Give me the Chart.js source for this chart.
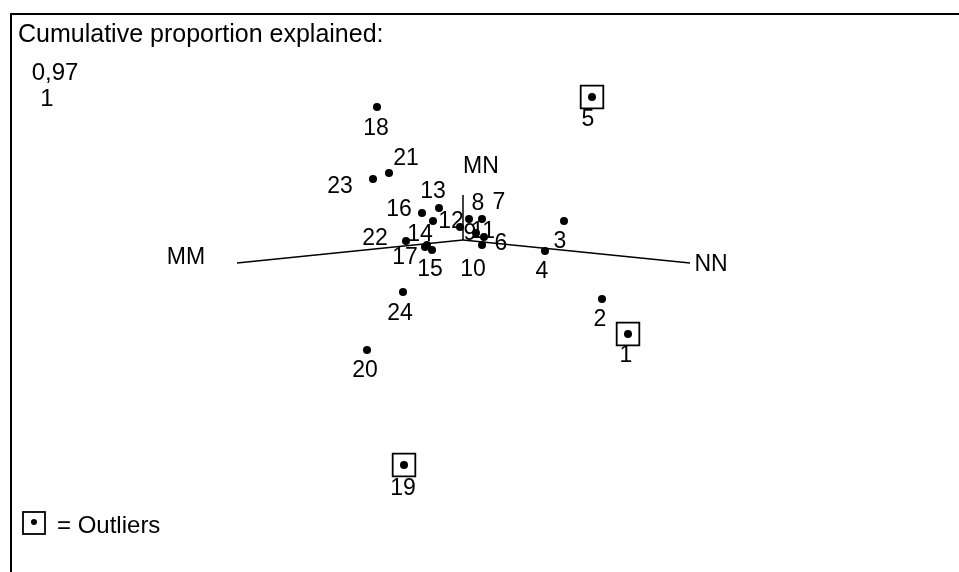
<!DOCTYPE html>
<html>
<head>
<meta charset="utf-8">
<script src="https://cdn.jsdelivr.net/npm/chart.js@4.4.0/dist/chart.umd.min.js"></script>
<style>
body{margin:0;background:#fff;}
#wrap{position:relative;width:959px;height:572px;}
#frame{position:absolute;left:10px;top:13px;right:0;bottom:0;border-left:2px solid #000;border-top:2px solid #000;pointer-events:none;}
</style>
</head>
<body>
<div id="wrap">
  <canvas id="biplot" width="959" height="572"></canvas>
  <div id="frame"></div>
</div>
<script>
// observations (scores)
let pointLabels = ["1","2","3","4","5","6","7","8","9","10","11","12","13","14","15","16","17","18","19","20","21","22","23","24"];
let scoreX = [1.65, 1.39, 1.01, 0.82, 1.29, 0.21, 0.19, 0.06, -0.03, 0.19, 0.13, -0.30, -0.24, -0.36, -0.31, -0.41, -0.38, -0.86, -0.59, -0.96, -0.74, -0.57, -0.90, -0.60];
let scoreY = [-0.94, -0.59, 0.19, -0.11, 1.43, 0.03, 0.21, 0.21, 0.13, -0.05, 0.07, 0.19, 0.32, -0.05, -0.10, 0.27, -0.07, 1.33, -2.25, -1.10, 0.67, -0.01, 0.61, -0.52];
let outliers = ["1", "5", "19"];

// variables (loadings)
let varNames = ["MM", "NN", "MN"];
let varX = [-2.26, 2.27, 0];
let varY = [-0.23, -0.23, 0.45];

let cumProp = ["0,97", "1"];

// where each number sits relative to its dot (px)
let labelOffsets = [[-2,20],[-2,19],[-4,19],[-3,19],[-4,21],[17,5],[17,-18],[9,-17],[10,5],[-9,23],[7,-3],[18,-1],
  [-6,-18],[-7,-12],[-2,18],[-23,-5],[-20,9],[-1,20],[-1,22],[-2,19],[17,-16],[-31,-4],[-33,6],[-3,20]];
let varOffsets = [[-51,-7],[21,0],[18,-30]];

let family = "'Liberation Sans', Arial, sans-serif";

let scores = scoreX.map((x, i) => ({x: x, y: scoreY[i]}));
let outlierPts = outliers.map(l => scores[pointLabels.indexOf(l)]);

let datasets = varNames.map((name, i) => ({
  type: "line",
  label: name,
  data: [{x: 0, y: 0}, {x: varX[i], y: varY[i]}],
  borderColor: "#000",
  borderWidth: 1.5,
  pointRadius: 0,
  fill: false
}));
datasets.push({
  type: "scatter",
  label: "scores",
  data: scores,
  backgroundColor: "#000",
  borderColor: "#000",
  pointRadius: 4,
  borderWidth: 0
});
datasets.push({
  type: "scatter",
  label: "outliers",
  data: outlierPts,
  pointStyle: "rect",
  pointRadius: 16,
  backgroundColor: "rgba(0,0,0,0)",
  borderColor: "#000",
  borderWidth: 1.8
});

const textPlugin = {
  id: "biplotText",
  beforeDatasetsDraw(chart) {
    // numbers go under the dots
    let ctx = chart.ctx, xs = chart.scales.x, ys = chart.scales.y;
    ctx.save();
    ctx.font = "23px " + family;
    ctx.fillStyle = "#000";
    ctx.textAlign = "center";
    ctx.textBaseline = "middle";
    pointLabels.forEach((l, i) => {
      ctx.fillText(l, xs.getPixelForValue(scoreX[i]) + labelOffsets[i][0], ys.getPixelForValue(scoreY[i]) + labelOffsets[i][1] + 2);
    });
    ctx.restore();
  },
  afterDraw(chart) {
    let ctx = chart.ctx, xs = chart.scales.x, ys = chart.scales.y;
    ctx.save();
    ctx.font = "23px " + family;
    ctx.fillStyle = "#000";
    ctx.textBaseline = "middle";
    ctx.textAlign = "center";
    varNames.forEach((n, i) => {
      ctx.fillText(n, xs.getPixelForValue(varX[i]) + varOffsets[i][0], ys.getPixelForValue(varY[i]) + varOffsets[i][1] + 2);
    });
    ctx.font = "24px " + family;
    ctx.fillText(cumProp[0], 55, 73);
    ctx.fillText(cumProp[1], 47, 99);
    ctx.font = "25px " + family;
    ctx.textAlign = "left";
    ctx.fillText("Cumulative proportion explained:", 18, 35);
    // legend
    ctx.lineWidth = 1.8;
    ctx.strokeStyle = "#000";
    ctx.strokeRect(23, 512, 22, 22);
    ctx.beginPath();
    ctx.arc(34, 522, 3, 0, Math.PI * 2);
    ctx.fill();
    ctx.font = "24px " + family;
    ctx.fillText("= Outliers", 57, 526);
    ctx.restore();
  }
};

new Chart("biplot", {
  data: { datasets: datasets },
  options: {
    responsive: false,
    animation: false,
    layout: { padding: 0, autoPadding: false },
    plugins: {
      legend: { display: false },
      tooltip: { enabled: false }
    },
    scales: {
      x: { type: "linear", min: -4.63, max: 4.96, display: false },
      y: { type: "linear", min: -3.32, max: 2.40, display: false }
    }
  },
  plugins: [textPlugin]
});
</script>
</body>
</html>
